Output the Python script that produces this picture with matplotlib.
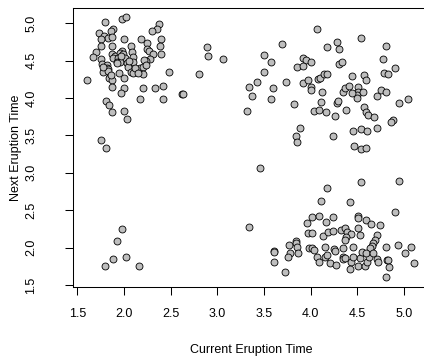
import matplotlib
matplotlib.use("Agg")
import matplotlib.pyplot as plt
import numpy as np

# short eruption followed by long eruption
ul_cur = [1.80,1.98,2.02,2.37,2.35,2.30,1.88,1.86,1.73,1.79,1.83,1.875,1.75,2.00,2.18,2.25,2.40,1.87,1.75,2.38,
          2.07,2.25,2.27,1.70,1.98,2.09,1.665,1.87,1.90,1.957,1.99,2.40,2.31,1.885,1.94,2.01,2.10,2.28,1.754,2.235,
          2.21,1.92,1.957,2.03,2.10,1.76,1.815,1.815,1.83,2.04,2.08,2.136,2.17,2.207,2.24,1.78,1.85,1.84,1.868,1.95,
          2.00,2.10,2.207,2.485,2.806,2.885,2.90,3.06,1.60,1.868,2.00,1.968,2.20,2.33,2.42,2.618,2.635,2.17,2.42,1.804,
          1.84,1.868,2.00,2.035,1.75,1.804,1.83,1.86,1.93,1.97,2.12,2.05,1.78,2.15]
ul_next = [5.02,5.05,5.08,4.99,4.92,4.89,4.92,4.89,4.87,4.83,4.80,4.81,4.785,4.785,4.785,4.735,4.785,4.69,4.69,4.69,
           4.69,4.65,4.63,4.62,4.63,4.62,4.545,4.585,4.566,4.60,4.585,4.585,4.585,4.53,4.53,4.53,4.55,4.52,4.52,4.495,
           4.51,4.485,4.485,4.465,4.485,4.45,4.44,4.405,4.39,4.42,4.35,4.35,4.40,4.42,4.44,4.35,4.294,4.263,4.24,4.33,
           4.27,4.33,4.317,4.35,4.32,4.686,4.566,4.52,4.236,4.15,4.14,4.07,4.14,4.14,4.165,4.058,4.058,3.987,3.987,3.956,
           3.91,3.817,3.82,3.72,3.443,3.327,4.36,4.31,4.47,4.56,4.40,4.50,4.42,4.33]

# short followed by short
ll_cur = [1.98,1.92,1.885,2.02,1.80,2.16]
ll_next = [2.25,2.09,1.85,1.87,1.754,1.754]

# long followed by long
ur_cur = [4.07,3.688,4.174,4.284,4.305,4.537,4.80,3.502,3.571,3.913,3.949,4.002,3.849,3.92,4.305,4.33,4.77,4.90,4.784,4.823,
          3.502,3.42,3.338,3.367,3.32,3.571,3.599,3.735,3.82,3.92,3.973,4.002,4.002,4.074,4.099,4.142,4.177,4.123,4.106,4.034,
          4.091,4.159,4.259,4.28,4.295,4.377,4.342,4.366,4.412,4.44,4.57,4.59,4.505,4.509,4.49,4.498,4.555,4.444,4.705,4.752,
          4.80,4.941,5.044,4.57,4.59,4.616,4.677,4.883,4.859,4.705,4.537,4.605,4.455,4.466,4.534,4.59,4.241,3.884,3.842,3.849]
ur_next = [4.918,4.718,4.686,4.753,4.65,4.806,4.70,4.571,4.486,4.539,4.508,4.486,4.419,4.432,4.451,4.486,4.52,4.405,4.338,4.317,
           4.35,4.218,4.151,4.027,3.826,3.983,4.13,4.218,3.914,4.205,4.246,4.151,4.107,4.254,4.272,4.325,4.325,4.075,3.951,3.826,
           3.84,3.809,3.759,3.937,3.964,3.84,4.085,4.138,4.16,4.294,4.307,4.24,4.151,4.076,4.04,3.996,4.076,4.071,4.027,4.107,
           4.085,3.937,3.987,3.875,3.817,3.773,3.742,3.706,3.675,3.595,3.586,3.563,3.563,3.362,3.314,3.327,3.496,3.595,3.496,3.416]

# long followed by short
lr_cur = [3.457,4.537,4.944,4.174,4.106,4.423,4.905,3.338,
          3.839,3.839,3.77,3.849,3.777,3.76,3.866,3.606,3.606,3.606,3.724,3.984,
          3.956,4.01,4.091,4.159,4.241,4.509,4.509,4.591,4.641,4.741,
          3.973,4.01,4.127,4.187,4.241,4.32,4.366,4.384,4.43,4.377,4.366,4.509,4.527,4.712,4.687,4.669,4.652,4.634,
          4.01,4.034,4.152,4.252,4.259,4.342,4.455,4.805,4.937,5.009,5.073,5.108,
          4.063,4.091,4.152,4.177,4.206,4.27,4.342,4.348,4.366,4.427,4.42,4.527,4.509,4.58,4.605,4.627,4.712,4.723,
          4.812,4.83,4.84,4.805,4.545,4.591,4.669,4.455]
lr_next = [3.06,2.881,2.894,2.793,2.627,2.614,2.48,2.279,
           2.092,2.057,2.035,2.012,1.932,1.878,1.932,1.958,1.937,1.803,1.67,1.99,
           2.333,2.405,2.422,2.346,2.405,2.422,2.392,2.369,2.316,2.302,
           2.199,2.199,2.155,2.213,2.226,2.235,2.258,2.213,2.182,2.138,2.102,2.258,2.168,2.168,2.102,2.057,2.021,1.99,
           1.99,1.968,2.004,1.977,1.958,1.99,2.004,2.004,2.035,1.932,2.012,1.798,
           1.878,1.811,1.878,1.90,1.798,1.767,1.878,1.843,1.857,1.811,1.71,1.857,1.754,1.754,1.811,1.878,1.843,1.811,
           1.834,1.834,1.737,1.603,1.945,1.924,1.932,1.878]

x_ticks = [1.5, 2.0, 2.5, 3.0, 3.5, 4.0, 4.5, 5.0]
y_ticks = [1.5, 2.0, 2.5, 3.0, 3.5, 4.0, 4.5, 5.0]
x_label = "Current Eruption Time"
y_label = "Next Eruption Time"

current = np.array(ul_cur + ll_cur + ur_cur + lr_cur)
nxt = np.array(ul_next + ll_next + ur_next + lr_next)

plt.rcParams['font.family'] = ['Liberation Sans', 'DejaVu Sans']

fig = plt.figure(figsize=(4.24, 3.56), dpi=100)
W, H = 424, 356
l, r, b, t = 73.3, 426.6, 287, 8
ax = fig.add_axes([l / W, (H - b) / H, (r - l) / W, (b - t) / H])

ax.scatter(current, nxt, s=25, facecolor='#BEBEBE', edgecolor='black', linewidths=0.6, zorder=3)

ax.set_xlim(1.457, 5.24)
ax.set_ylim(1.473, 5.203)
ax.set_xticks(x_ticks)
ax.set_yticks(y_ticks)
ax.set_xticklabels([f"{v:.1f}" for v in x_ticks])
ax.set_yticklabels([f"{v:.1f}" for v in y_ticks], rotation=90, va='center')
ax.tick_params(direction='out', length=5.8, width=0.75, labelsize=9, colors='black')
ax.tick_params(axis='x', pad=9)
ax.tick_params(axis='y', pad=20)
for sp in ax.spines.values():
    sp.set_linewidth(0.75)
    sp.set_color('black')

ax.set_xlabel(x_label, fontsize=9)
ax.set_ylabel(y_label, fontsize=9)
ax.xaxis.set_label_coords(0.503, -0.226)
ax.xaxis.label.set_va('center')
ax.yaxis.set_label_coords(-0.163, 0.5)
ax.yaxis.label.set_va('center')

fig.savefig("out.png", dpi=100)
